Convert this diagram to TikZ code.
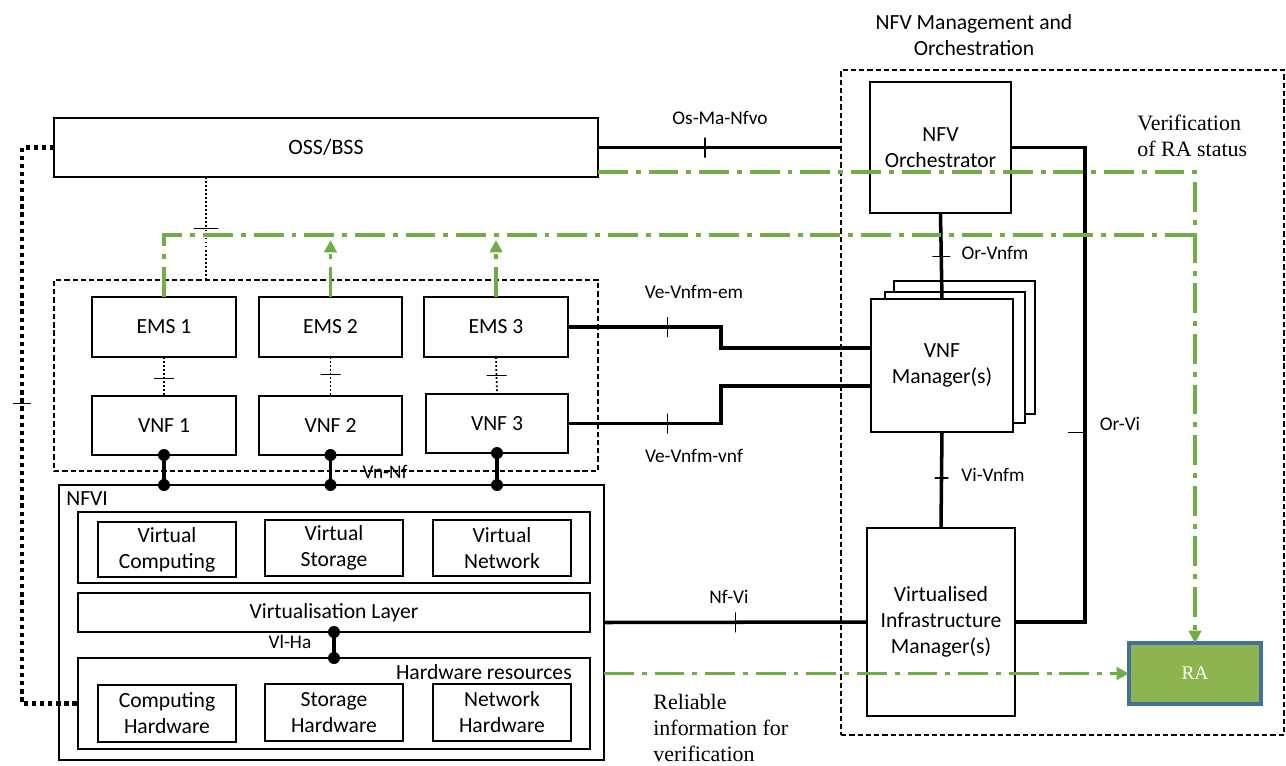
\documentclass[tikz,border=0pt]{standalone}
\usepackage{fontspec}
\setmainfont{Carlito}
\newfontfamily\timesfont{Liberation Serif}
\usetikzlibrary{calc,arrows.meta}
\definecolor{ggreen}{HTML}{70AD47}
\definecolor{rafill}{HTML}{8DB44F}
\definecolor{rablue}{HTML}{41719C}
\begin{document}
\begin{tikzpicture}[x=0.02cm,y=-0.02cm,
  wh/.style 2 args={minimum width=#1*0.02cm, minimum height=#2*0.02cm},
  box/.style={draw, line width=0.9pt, inner sep=0pt, outer sep=0pt, align=center, fill=white, font=\fontsize{12.3}{14.8}\selectfont},
  txt/.style={inner sep=0pt, align=center, font=\fontsize{12.3}{14.8}\selectfont},
  grp/.style={draw, dash pattern=on 3pt off 1.7pt, line width=0.6pt, inner sep=0pt, outer sep=0pt},
  lbl/.style={font=\fontsize{11}{13}\selectfont, inner sep=1pt},
  serifnote/.style={font=\timesfont\fontsize{12.5}{14.8}\selectfont, align=left, inner sep=0pt},
  conn/.style={line width=2pt},
  tdot/.style={line width=1pt, dash pattern=on 1pt off 1.3pt},
  bigdot/.style={line width=2.6pt, dash pattern=on 2.4pt off 2.2pt},
  gline/.style={ggreen, line width=2.2pt, dash pattern=on 17pt off 4.5pt on 2.8pt off 4.5pt},
  garrow/.style={gline, -{Triangle[length=7pt,width=7pt]}},
  htick/.style={draw, solid, line width=0.7pt, inner sep=0pt, outer sep=0pt, minimum height=0pt, minimum width=#1},
  htick/.default=0.4cm,
  vtick/.style={draw, solid, line width=0.7pt, inner sep=0pt, outer sep=0pt, minimum width=0pt, minimum height=#1},
  vtick/.default=0.4cm,
  dotn/.style={circle, fill, inner sep=0pt, minimum size=0.24cm},
]
\useasboundingbox (0,0) rectangle (1286,765);

% ---------- left side ----------
\node[box, wh={544}{59}, font=\fontsize{12.5}{15}\selectfont] (oss) at (326,147.5) {OSS/BSS};
\node[grp, wh={544}{191}] (emsgrp) at (326,375.5) {};
\node[box, wh={144}{60}] (ems1) at (164,327) {EMS 1};
\node[box, wh={143}{60}] (ems2) at (330.5,327) {EMS 2};
\node[box, wh={144}{60}] (ems3) at (496,327) {EMS 3};
\node[box, wh={144}{59}] (vnf1) at (164,425.5) {VNF 1};
\node[box, wh={143}{59}] (vnf2) at (330.5,425.5) {VNF 2};
\node[box, wh={142}{59}] (vnf3) at (497,423.5) {VNF 3};

\node[box, wh={545}{275}] (nfvi) at (331.5,622.5) {};
\node[txt, anchor=west] (nfvilbl) at (66,499) {NFVI};
\node[box, wh={512}{71}] (vgrp) at (334,547.5) {};
\node[box, wh={138}{55}] (vc) at (167,549.5) {Virtual\\Computing};
\node[box, wh={138}{56}] (vs) at (334,548) {Virtual\\Storage};
\node[box, wh={138}{56}] (vn) at (502,548) {Virtual\\Network};
\node[box, wh={512}{39}] (vl) at (334,612.5) {Virtualisation Layer};
\node[box, wh={512}{91}] (hw) at (334,703.5) {};
\node[txt, anchor=east] (hwlbl) at (572,672) {Hardware resources};
\node[box, wh={138}{57}] (ch) at (167,713.5) {Computing\\Hardware};
\node[box, wh={138}{57}] (sh) at (334,712.5) {Storage\\Hardware};
\node[box, wh={138}{57}] (nh) at (502,712.5) {Network\\Hardware};

% ---------- right side (MANO) ----------
\node[grp, wh={443}{665}] (mano) at (1062.5,402.5) {};
\node[txt] (manolbl) at (974,35) {NFV Management and\\Orchestration};
\node[box, wh={141}{131}] (orch) at (940.5,147.5) {NFV\\Orchestrator};
\node[box, wh={141}{133}] (vnfmb2) at (964.5,347.5) {};
\node[box, wh={140}{131}] (vnfmb1) at (955,357.5) {};
\node[box, wh={142}{133}] (vnfm) at (942,365.5) {VNF\\Manager(s)};
\node[box, wh={148}{188}] (vim) at (941,622) {Virtualised\\Infrastructure\\Manager(s)};
\node[wh={132}{61}, inner sep=0pt, outer sep=0pt, fill=rafill, draw=rablue, line width=1.8pt, text=white, font=\timesfont\fontsize{11}{13}\selectfont] (ra) at (1195,673.5) {RA};

% ---------- helper coordinates ----------
\coordinate (dl) at (22,0);
\coordinate (ossd) at (206,0);
\coordinate (orx) at (1085,0);
\coordinate (bendx) at (721,0);
\coordinate (gy) at (0,235);

% ---------- black connectors ----------
\draw[bigdot] (oss.west) -- (oss.west -| dl) -- node[pos=0.46, htick=0.36cm]{} (hw.west -| dl) -- (hw.west);
\draw[tdot] (oss.south -| ossd) -- node[pos=0.5, htick=0.5cm]{} (emsgrp.north -| ossd);
\draw[tdot] (ems1.south) -- node[pos=0.55, htick]{} (vnf1.north);
\draw[tdot] (ems2.south) -- node[pos=0.45, htick]{} (vnf2.north);
\draw[tdot] (ems3.south) -- node[pos=0.5, htick]{} (vnf3.north);

\draw[conn] (vnf1.south) node[dotn]{} -- (vnf1.south |- nfvi.north) node[dotn]{};
\draw[conn] (vnf2.south) node[dotn]{} -- (vnf2.south |- nfvi.north) node[dotn]{};
\draw[conn] (vnf3.south) node[dotn]{} -- (vnf3.south |- nfvi.north) node[dotn]{};
\draw[conn] (vl.south) node[dotn]{} -- (hw.north) node[dotn]{};

\draw[conn] (oss.east) -- node[pos=0.44, vtick]{} (oss.east -| mano.west);
\draw[conn] (orch.east) -- (orch.east -| orx) -- node[pos=0.6, htick=0.34cm, anchor=east]{} (vim.east -| orx) -- (vim.east);
\draw[conn] (orch.south) -- node[pos=0.51, htick=0.36cm]{} (vnfm.north);
\draw[conn] (vnfm.south) -- node[pos=0.48, htick=0.27cm]{} (vim.north);
\draw[conn] (nfvi.east) -- node[pos=0.5, vtick]{} (vim.west);
\draw[conn] (ems3.east) -- node[pos=0.65, vtick]{} (ems3.east -| bendx) -- ([yshift=0.35cm]vnfm.west -| bendx) -- ([yshift=0.35cm]vnfm.west);
\draw[conn] (vnf3.east) -- node[pos=0.65, vtick]{} (vnf3.east -| bendx) -- ([yshift=-0.41cm]vnfm.west -| bendx) -- ([yshift=-0.41cm]vnfm.west);

% ---------- labels ----------
\node[lbl] (l1) at (720,118) {Os-Ma-Nfvo};
\node[lbl] (l2) at (995,253) {Or-Vnfm};
\node[lbl] (l3) at (694,292) {Ve-Vnfm-em};
\node[lbl] (l4) at (694,456) {Ve-Vnfm-vnf};
\node[lbl] (l5) at (1120,424) {Or-Vi};
\node[lbl] (l6) at (993,475) {Vi-Vnfm};
\node[lbl] (l7) at (729,597) {Nf-Vi};
\node[lbl] (l8) at (290,642) {Vl-Ha};
\node[lbl] (l9) at (385,472) {Vn-Nf};

\node[serifnote, anchor=west] (ver) at (1137,136) {Verification\\of RA status};
\node[serifnote, anchor=west] (rel) at (653,728) {Reliable\\information for\\verification};

% ---------- green verification flows ----------
\coordinate (g1) at ($(oss.south east)+(0,-5)$);
\draw[garrow] (g1) -- (g1 -| ra.north) -- (ra.north);
\draw[gline] (ems1.north) -- (ems1.north |- gy) -- (gy -| ra.north);
\draw[garrow] (ems2.north) -- ([yshift=-0.1cm]ems2.north |- gy);
\draw[garrow] (ems3.north) -- ([yshift=-0.1cm]ems3.north |- gy);
\draw[garrow] (nfvi.east |- ra.west) -- (ra.west);
\end{tikzpicture}
\end{document}
